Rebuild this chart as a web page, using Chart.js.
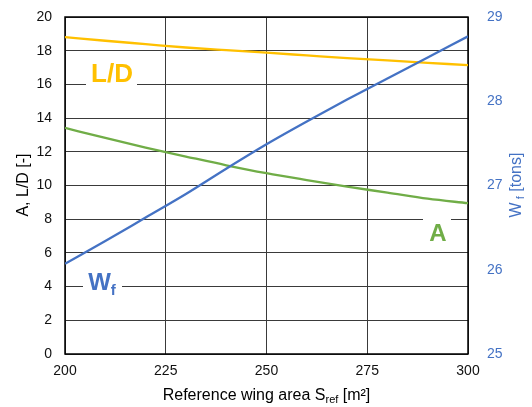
<!DOCTYPE html>
<html>
<head>
<meta charset="utf-8">
<style>
  html, body { margin: 0; padding: 0; background: #fff; }
  #wrap { width: 532px; height: 407px; position: relative; }
</style>
</head>
<body>
<div id="wrap"><canvas id="chart"></canvas></div>
<script src="https://cdn.jsdelivr.net/npm/chart.js@4/dist/chart.umd.min.js"></script>
<script>
// Wing sizing sweep: reference wing area vs aspect ratio, L/D and fuel weight
const wingArea    = [200, 210, 220, 230, 240, 250, 260, 270, 280, 290, 300];
const liftToDrag  = [18.80, 18.59, 18.39, 18.19, 18.03, 17.88, 17.72, 17.56, 17.42, 17.28, 17.14];
const aspectRatio = [13.42, 12.82, 12.25, 11.72, 11.20, 10.73, 10.32, 9.93, 9.58, 9.22, 8.95];
const fuelWeight  = [26.07, 26.34, 26.62, 26.90, 27.20, 27.49, 27.76, 28.02, 28.27, 28.52, 28.77];

const xRange  = [200, 300, 25];
const yRange  = [0, 20, 2];
const y1Range = [25, 29, 1];

const FONT = '"Liberation Sans", Arial, sans-serif';
const C_LD = '#FFC000', C_A = '#70AD47', C_WF = '#4472C4';
const NONE = 'rgba(0,0,0,0)';

const pts = ys => wingArea.map((x, i) => ({ x, y: ys[i] }));

// draws a run of text pieces, each with its own font and baseline shift
function drawRich(ctx, parts, x, y, align) {
  let w = 0;
  parts.forEach(p => { ctx.font = p.font; p.w = ctx.measureText(p.text).width; w += p.w; });
  let cx = align === 'center' ? x - w / 2 : x;
  ctx.textAlign = 'left';
  parts.forEach(p => {
    ctx.font = p.font;
    ctx.fillText(p.text, cx, y + (p.dy || 0));
    cx += p.w;
  });
}

const decorations = {
  id: 'decorations',
  beforeDatasetsDraw(chart) {
    const { ctx, chartArea: a } = chart;
    ctx.save();
    ctx.strokeStyle = '#000';
    ctx.lineWidth = 1.5;
    ctx.strokeRect(a.left, a.top, a.right - a.left, a.bottom - a.top);
    ctx.restore();
  },
  afterDraw(chart) {
    const { ctx } = chart;
    ctx.save();
    ctx.textBaseline = 'alphabetic';

    // axis titles
    ctx.fillStyle = '#000';
    drawRich(ctx, [
      { text: 'Reference wing area S', font: `16px ${FONT}` },
      { text: 'ref', font: `11px ${FONT}`, dy: 3 },
      { text: ' [m²]', font: `16px ${FONT}` }
    ], 266.5, 400, 'center');

    ctx.save();
    ctx.translate(28, 185);
    ctx.rotate(-Math.PI / 2);
    drawRich(ctx, [{ text: 'A, L/D [-]', font: `16px ${FONT}` }], 0, 0, 'center');
    ctx.restore();

    ctx.save();
    ctx.fillStyle = C_WF;
    ctx.translate(521, 185);
    ctx.rotate(-Math.PI / 2);
    drawRich(ctx, [
      { text: 'W', font: `16px ${FONT}` },
      { text: ' f', font: `11px ${FONT}`, dy: 3 },
      { text: ' [tons]', font: `16px ${FONT}` }
    ], 0, 0, 'center');
    ctx.restore();

    // series labels sitting on white patches over the grid
    ctx.fillStyle = '#fff';
    ctx.fillRect(86, 60, 51, 28);
    ctx.fillRect(423, 212, 28, 32);
    ctx.fillRect(83, 268, 39, 30);

    ctx.fillStyle = C_LD;
    drawRich(ctx, [{ text: 'L/D', font: `bold 26px ${FONT}` }], 112, 82, 'center');
    ctx.fillStyle = C_A;
    drawRich(ctx, [{ text: 'A', font: `bold 24px ${FONT}` }], 438, 241, 'center');
    ctx.fillStyle = C_WF;
    drawRich(ctx, [
      { text: 'W', font: `bold 24px ${FONT}` },
      { text: 'f', font: `bold 15px ${FONT}`, dy: 5 }
    ], 102, 290, 'center');
    ctx.restore();
  }
};

new Chart(document.getElementById('chart'), {
  type: 'line',
  data: {
    datasets: [
      { label: 'Wf', data: pts(fuelWeight), yAxisID: 'y1', borderColor: C_WF },
      { label: 'A', data: pts(aspectRatio), yAxisID: 'y', borderColor: C_A },
      { label: 'L/D', data: pts(liftToDrag), yAxisID: 'y', borderColor: C_LD }
    ]
  },
  options: {
    responsive: true,
    maintainAspectRatio: false,
    devicePixelRatio: 1,
    animation: false,
    layout: { padding: { top: 17, left: 0, right: 0, bottom: 0 } },
    elements: {
      point: { radius: 0 },
      line: { borderWidth: 2.3, tension: 0.3, cubicInterpolationMode: 'monotone', fill: false }
    },
    plugins: { legend: { display: false }, tooltip: { enabled: false } },
    scales: {
      x: {
        type: 'linear',
        min: xRange[0], max: xRange[1],
        afterFit: s => { s.height = 53; },
        ticks: { stepSize: xRange[2], padding: 9, color: '#111', font: { family: FONT, size: 14 } },
        grid: { color: '#3a3a3a', lineWidth: 1, drawTicks: false },
        border: { display: false }
      },
      y: {
        position: 'left',
        min: yRange[0], max: yRange[1],
        afterFit: s => { s.width = 65; },
        ticks: { stepSize: yRange[2], padding: 7, color: '#111', font: { family: FONT, size: 14 } },
        grid: { color: '#3a3a3a', lineWidth: 1, drawTicks: true, tickLength: 6, tickColor: NONE },
        border: { display: false }
      },
      y1: {
        position: 'right',
        min: y1Range[0], max: y1Range[1],
        afterFit: s => { s.width = 64; },
        ticks: { stepSize: y1Range[2], padding: 7, color: C_WF, font: { family: FONT, size: 14 } },
        grid: { display: true, drawOnChartArea: false, drawTicks: true, tickLength: 12, tickColor: NONE },
        border: { display: false }
      }
    }
  },
  plugins: [decorations]
});
</script>
</body>
</html>
